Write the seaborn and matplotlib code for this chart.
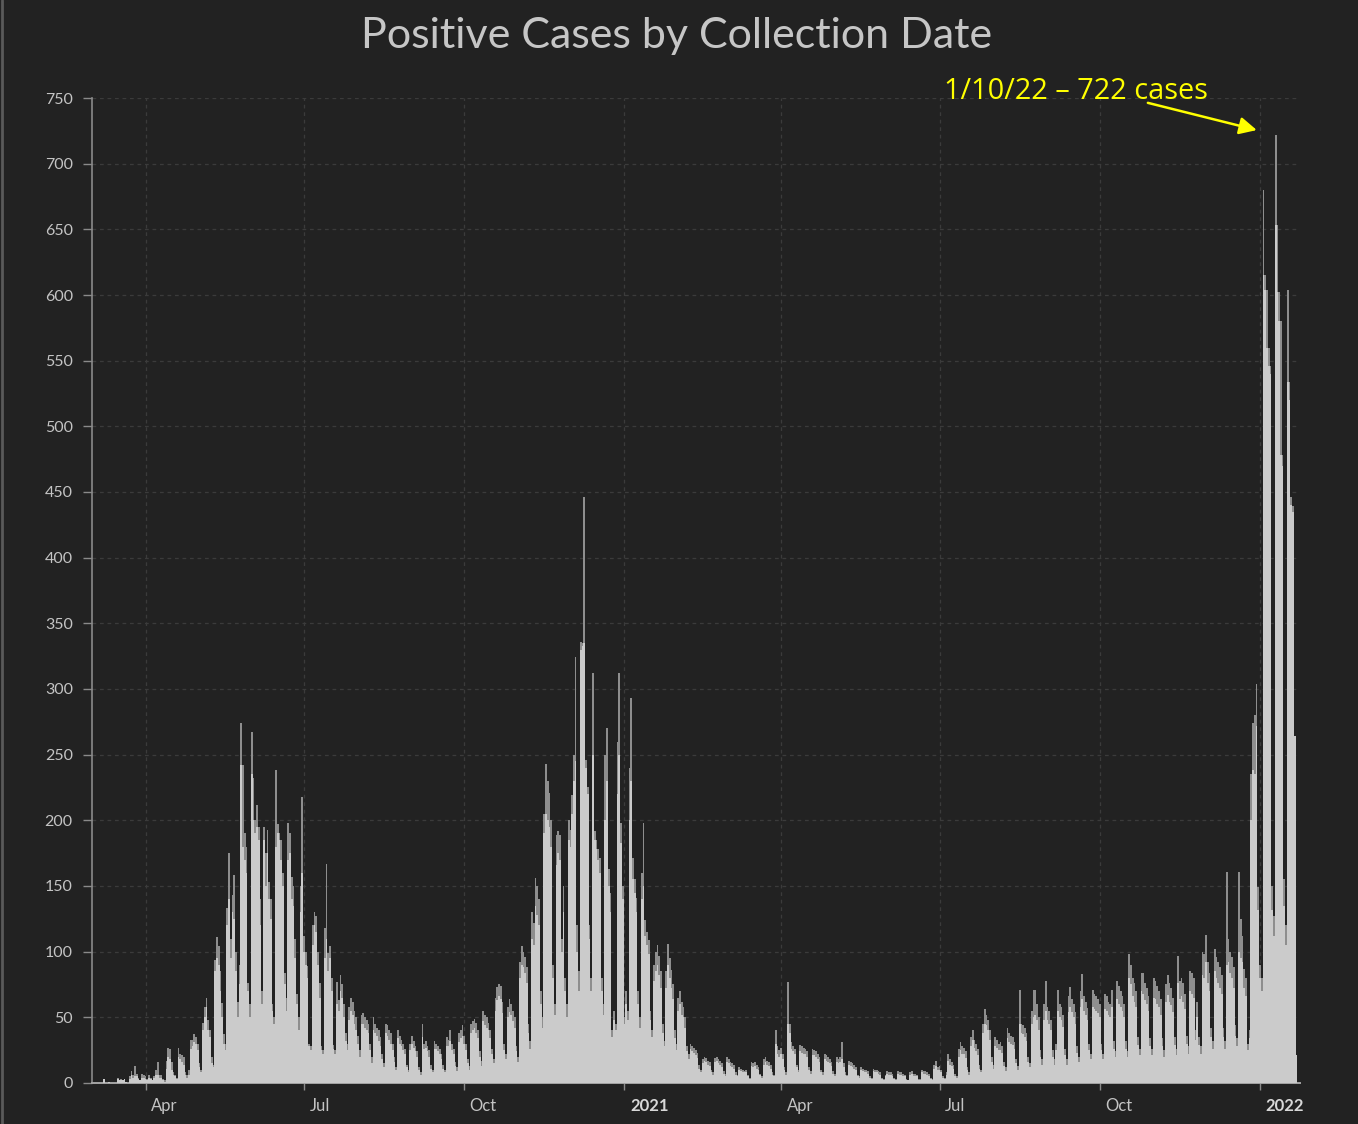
import numpy as np
import pandas as pd
import matplotlib
matplotlib.use("Agg")
import matplotlib.pyplot as plt
import matplotlib.dates as mdates
from matplotlib.transforms import ScaledTranslation
from matplotlib.lines import Line2D
import seaborn as sns

# ---------------- data: daily positive cases, weeks Mon..Sun, first Monday 2020-03-02
START = "2020-03-02"

total_a = [[0,0,0,0,0,0,3],[0,0,1,0,0,0,0],[4,2,3,2,3,1,0],[5,9,6,13,7,4,2],
           [7,6,5,3,6,4,2],[5,10,16,6,6,3,2],[17,27,26,16,8,6,4],[27,22,21,20,8,6,10],
           [33,33,37,35,30,15,10],[46,58,65,48,40,20,14],[94,111,104,85,61,37,30],
           [133,175,110,143,158,100,62],[90,274,242,190,180,76,60]]
light_a = [[0,0,0,0,0,0,3],[0,0,1,0,0,0,0],[3,2,2,2,3,1,0],[3,6,4,5,5,3,2],
           [4,4,3,2,4,3,2],[4,6,6,4,4,2,1],[11,20,18,10,6,5,3],[20,18,16,14,6,4,6],
           [26,28,31,30,25,12,8],[40,50,58,40,35,15,12],[85,95,90,70,50,30,25],
           [120,140,95,130,125,85,50],[75,242,180,170,160,70,50]]

total_b = [[267,232,200,212,195,140,70],[195,175,193,153,140,60,50],[238,197,190,185,160,84,65],
           [198,190,157,150,110,68,50],[150,218,112,100,89,30,28],[120,130,127,100,76,28,25],
           [118,167,99,104,80,29,25],[77,63,82,75,60,38,30],[58,65,62,55,50,36,25],
           [52,53,50,48,45,30,20],[50,45,42,40,35,22,15],[45,44,40,38,30,20,12],
           [40,36,33,30,26,14,10]]
light_b = [[235,200,190,195,185,120,60],[185,150,175,140,125,55,45],[180,190,185,170,150,75,55],
           [170,175,140,135,95,60,40],[130,160,100,90,80,28,25],[105,120,115,90,65,25,22],
           [95,110,85,95,70,26,22],[60,55,70,65,50,32,25],[48,55,52,45,40,30,20],
           [45,45,42,40,38,25,15],[40,38,36,32,28,18,12],[38,36,33,30,25,16,10],
           [34,30,28,25,22,12,8]]

total_c = [[30,36,32,28,24,12,8],[45,30,32,28,25,14,10],[32,30,28,26,22,14,10],
           [35,33,40,30,26,16,12],[38,40,44,36,30,18,13],[45,47,49,46,40,24,17],
           [55,52,50,46,40,26,18],[65,73,75,74,62,30,22],[58,64,60,55,50,28,20],
           [92,104,100,96,88,45,32],[130,122,156,150,140,70,50],[205,243,230,221,200,90,60],
           [189,192,189,110,150,80,60]]
light_c = [[25,30,27,24,20,10,6],[35,26,27,24,20,11,8],[26,26,24,22,18,11,8],
           [28,28,32,25,22,13,9],[31,34,36,30,25,15,10],[38,40,42,38,34,20,13],
           [47,44,42,40,34,22,15],[55,63,66,64,53,25,18],[50,54,52,47,42,24,16],
           [80,90,88,84,76,38,26],[110,105,135,128,120,60,42],[190,205,200,195,180,80,52],
           [166,175,170,100,130,70,50]]

total_d = [[200,193,219,250,324,120,85],[336,335,446,246,225,120,80],[312,192,185,178,171,80,60],
           [250,270,163,145,40,55,45],[260,312,198,150,50,70,55],[240,293,171,155,141,70,50],
           [160,198,124,115,109,55,40],[90,100,105,97,85,45,32],[85,106,95,86,75,40,30],
           [65,70,62,58,50,28,22],[30,28,27,25,23,14,10],[18,20,19,17,16,10,8],
           [19,20,18,17,15,9,7]]
light_d = [[185,180,205,230,245,100,70],[330,333,335,240,220,110,70],[250,185,178,170,160,70,52],
           [200,230,150,130,35,48,40],[220,250,183,140,45,60,48],[200,230,155,145,130,60,42],
           [140,150,112,105,98,48,35],[78,85,90,82,72,38,28],[72,90,80,72,64,34,25],
           [55,60,52,50,42,24,18],[26,24,23,21,19,11,8],[15,17,16,14,13,8,6],
           [16,17,15,14,12,7,5]]

total_e = [[20,18,16,15,14,8,6],[12,11,10,9,10,6,4],[16,15,16,14,12,7,5],
           [18,20,17,16,14,8,6],[40,28,25,27,22,12,8],[77,45,31,28,26,14,10],
           [29,28,27,26,24,12,9],[26,25,24,22,20,10,8],[22,21,20,18,16,9,7],
           [20,18,20,31,15,8,6],[17,16,15,14,12,6,5],[12,11,10,10,9,5,4],
           [11,10,10,9,8,4,3]]
light_e = [[16,15,13,12,11,6,5],[10,9,8,8,8,5,3],[13,12,13,11,10,6,4],
           [14,16,14,13,11,6,5],[30,22,20,22,18,10,6],[45,38,26,24,22,12,8],
           [24,23,22,22,20,10,7],[21,21,20,18,16,8,6],[18,17,16,15,13,7,5],
           [16,15,16,18,12,6,5],[14,13,12,11,10,5,4],[10,9,8,8,7,4,3],
           [9,8,8,7,6,3,2]]

total_f = [[6,9,8,8,7,4,3],[9,8,8,7,6,3,2],[8,9,7,7,6,3,3],
           [10,9,9,8,7,4,3],[14,17,12,13,10,5,4],[8,22,18,16,14,7,5],
           [26,31,28,27,24,12,8],[35,40,33,30,26,14,10],[45,56,52,48,40,20,14],
           [35,33,30,31,28,16,12],[42,38,36,35,31,18,13],[71,45,44,42,38,20,15],
           [55,71,71,60,50,25,18]]
light_f = [[5,7,6,6,5,3,2],[7,6,6,5,5,2,2],[6,7,5,5,5,2,2],
           [8,7,7,6,5,3,2],[11,13,10,10,8,4,3],[6,17,14,13,11,5,4],
           [20,25,22,22,19,10,6],[28,33,27,24,21,11,8],[38,45,44,40,33,16,11],
           [28,27,25,25,23,13,9],[34,31,30,29,26,15,10],[45,38,37,35,32,16,12],
           [45,50,52,48,40,20,14]]

total_g = [[60,78,58,55,48,25,18],[30,71,60,58,52,26,18],[66,73,64,60,54,28,20],
           [70,83,66,62,57,30,22],[71,68,66,64,60,30,22],[68,66,62,60,71,32,24],
           [78,74,70,66,60,32,24],[98,90,80,76,70,35,26],[84,84,76,72,66,34,26],
           [80,78,74,70,64,34,25],[75,82,76,72,65,35,26],[97,78,80,76,68,36,28],
           [85,84,80,40,62,35,28]]
light_g = [[48,55,48,45,40,20,14],[25,55,50,48,43,21,14],[54,58,54,50,45,23,16],
           [58,64,55,52,48,25,18],[58,56,55,53,50,25,18],[56,55,52,50,58,26,20],
           [64,60,58,55,50,26,20],[80,75,66,62,58,29,21],[70,68,63,60,55,28,21],
           [65,64,60,58,52,28,20],[62,67,62,59,54,29,21],[76,64,66,62,56,30,22],
           [70,68,65,33,50,29,22]]

total_h = [[100,98,113,92,84,42,32],[102,96,92,88,82,42,32],[161,110,100,96,88,44,34],
           [161,125,112,87,80,30,40],[235,274,280,304,149,90,80],[680,615,604,560,546,150,127],
           [722,653,602,580,478,155,120],[604,534,446,439,264,21]]
light_h = [[82,80,92,76,70,35,26],[85,80,76,72,68,35,26],[90,92,84,80,72,36,28],
           [100,95,92,72,66,25,34],[200,238,235,272,132,80,70],[615,604,560,546,540,132,112],
           [653,602,580,478,470,135,105],[534,520,440,435,264,21]]

tick_dates = ["2020-04-01", "2020-07-01", "2020-10-01", "2021-01-01",
              "2021-04-01", "2021-07-01", "2021-10-01", "2022-01-01"]
tick_labels = ["Apr", "Jul", "Oct", "2021", "Apr", "Jul", "Oct", "2022"]
y_ticks = list(range(0, 751, 50))
TITLE = "Positive Cases by Collection Date"


def flatten(*blocks):
    return [v for block in blocks for wk in block for v in wk]


total = flatten(total_a, total_b, total_c, total_d, total_e, total_f, total_g, total_h)
light = flatten(light_a, light_b, light_c, light_d, light_e, light_f, light_g, light_h)
dates = pd.date_range(START, periods=len(total), freq="D")
df = pd.DataFrame({"day": mdates.date2num(dates), "date": dates,
                   "total": total, "light": light})

# ---------------- style
BG = "#222222"
DARK = "#8e8e8e"
LIGHT = "#cbcbcb"
GRID = "#3b3b3b"
TXT = "#c4c4c4"

sns.set_theme(style="dark")
plt.rcParams["font.family"] = ["Lato", "DejaVu Sans"]

fig = plt.figure(figsize=(13.58, 11.24), dpi=100, facecolor=BG)
ax = fig.add_axes([0.0674, 0.0365, 0.8899, 0.8763])
ax.set_facecolor(BG)

sns.histplot(data=df, x="day", weights="total", discrete=True, shrink=1.0,
             color=DARK, alpha=1, linewidth=0, ax=ax, zorder=2)
sns.histplot(data=df, x="day", weights="light", discrete=True, shrink=1.0,
             color=LIGHT, alpha=1, linewidth=0, ax=ax, zorder=3)

ax.set_xlim(mdates.date2num(pd.Timestamp("2020-03-01")),
            mdates.date2num(pd.Timestamp("2022-01-24")))
ax.set_ylim(0, 750)
ax.set_xlabel("")
ax.set_ylabel("")

ax.set_yticks(y_ticks)
ax.set_xticks(mdates.date2num(pd.to_datetime(tick_dates)))
ax.set_xticklabels(tick_labels)

ax.grid(True, which="major", linestyle=(0, (3, 3)), color=GRID, linewidth=0.9)
ax.set_axisbelow(True)

for s in ("top", "right"):
    ax.spines[s].set_visible(False)
ax.spines["left"].set_color("#8a8a8a")
ax.spines["left"].set_linewidth(1.2)
ax.spines["bottom"].set_color("#a5a5a5")
ax.spines["bottom"].set_linewidth(1.4)

ax.tick_params(axis="y", left=True, length=6.5, width=1, color="#8a8a8a",
               pad=7, labelsize=11.5, labelcolor=TXT)
ax.tick_params(axis="x", bottom=True, length=5, width=1, color="#8a8a8a",
               pad=6, labelsize=12, labelcolor=TXT)

offset = ScaledTranslation(4 / 72, 0, fig.dpi_scale_trans)
for lbl in ax.get_xticklabels():
    lbl.set_horizontalalignment("left")
    lbl.set_transform(lbl.get_transform() + offset)
    if lbl.get_text().isdigit():
        lbl.set_fontweight("bold")
        lbl.set_color("#d8d8d8")

fig.text(0.4985, 0.968, TITLE, ha="center", va="center", fontsize=31,
         color="#c6c6c6")

# annotation of the peak
i_peak = int(np.argmax(df["total"].values))
peak_day = df["day"].iloc[i_peak]
peak_val = df["total"].iloc[i_peak]
peak_date = df["date"].iloc[i_peak]
label = f"{peak_date.month}/{peak_date.day}/{peak_date.strftime('%y')} \u2013 {peak_val} cases"

ax.annotate(label, xy=(peak_day, peak_val), xycoords="data",
            xytext=(-144, 31.5), textcoords="offset points",
            ha="center", va="center", fontsize=20.8, color="#ffff00",
            family=["Open Sans", "DejaVu Sans"], annotation_clip=False)
ax.annotate("", xy=(peak_day, peak_val), xycoords="data",
            xytext=(-92, 23), textcoords="offset points",
            arrowprops=dict(arrowstyle="-|>", color="#ffff00", lw=1.8,
                            mutation_scale=26, shrinkA=0, shrinkB=14),
            annotation_clip=False)

fig.add_artist(Line2D([0.0015, 0.0015], [0, 1], color="#5a5a5a", lw=2,
                      transform=fig.transFigure))

fig.savefig("out.png", dpi=100, facecolor=BG)
